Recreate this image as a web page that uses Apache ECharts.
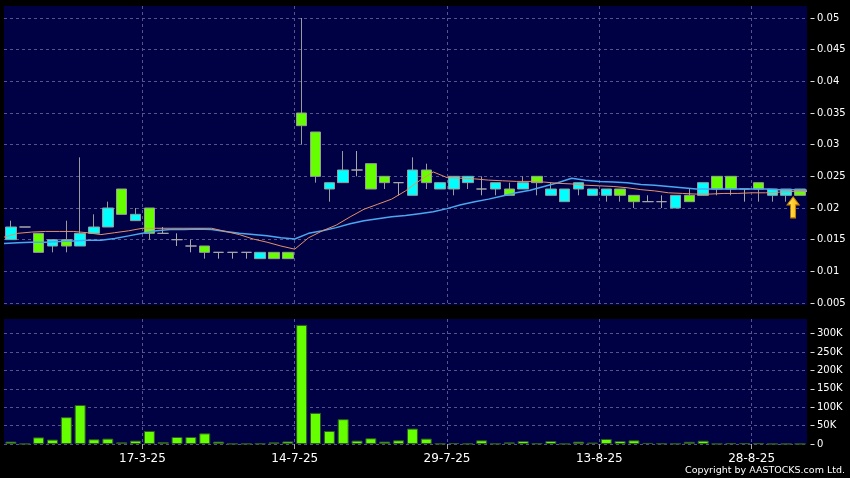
<!DOCTYPE html>
<html><head><meta charset="utf-8">
<script src="https://cdn.jsdelivr.net/npm/echarts@6/dist/echarts.min.js"></script>
<style>html,body{margin:0;padding:0;background:#000;}#c{width:850px;height:478px;}</style>
</head><body><div id="c"></div>
<script>
const dates = ['3-3-25','4-3-25','5-3-25','6-3-25','7-3-25','10-3-25','11-3-25','12-3-25','13-3-25','14-3-25',
  '17-3-25','18-3-25','19-3-25','20-3-25','21-3-25','24-3-25','25-3-25','26-3-25','27-3-25','28-3-25',
  '11-7-25','14-7-25','15-7-25','16-7-25','17-7-25','18-7-25','21-7-25','22-7-25','23-7-25','24-7-25',
  '25-7-25','28-7-25','29-7-25','30-7-25','31-7-25','1-8-25','4-8-25','5-8-25','6-8-25','7-8-25',
  '8-8-25','11-8-25','12-8-25','13-8-25','14-8-25','15-8-25','18-8-25','19-8-25','20-8-25','21-8-25',
  '22-8-25','25-8-25','26-8-25','27-8-25','28-8-25','29-8-25','1-9-25','2-9-25'];
const edgeDates = dates.concat(['3-9-25']);
const tickLabels = ['17-3-25','14-7-25','29-7-25','13-8-25','28-8-25'];
const volumeTicks = [0, 50000, 100000, 150000, 200000, 250000, 300000];

const opens  = [0.015,0.017,0.016,0.014,0.015,0.014,0.016,0.017,0.023,0.018,
  0.020,0.016,0.015,0.014,0.014,0.013,0.013,0.013,0.012,0.013,
  0.013,0.035,0.032,0.023,0.024,0.026,0.027,0.025,0.024,0.022,
  0.026,0.023,0.023,0.024,0.023,0.023,0.023,0.023,0.025,0.022,
  0.021,0.023,0.022,0.022,0.023,0.022,0.021,0.021,0.020,0.022,
  0.022,0.025,0.025,0.023,0.024,0.022,0.022,0.023];
const closes = [0.017,0.017,0.013,0.015,0.014,0.016,0.017,0.020,0.019,0.019,
  0.016,0.016,0.015,0.014,0.013,0.013,0.013,0.013,0.013,0.012,
  0.012,0.033,0.025,0.024,0.026,0.026,0.023,0.024,0.024,0.026,
  0.024,0.024,0.025,0.025,0.023,0.024,0.022,0.024,0.024,0.023,
  0.023,0.024,0.023,0.023,0.022,0.021,0.021,0.021,0.022,0.021,
  0.024,0.023,0.023,0.023,0.023,0.023,0.023,0.022];
const lows   = [0.015,0.017,0.013,0.013,0.013,0.014,0.016,0.017,0.019,0.018,
  0.015,0.016,0.014,0.013,0.012,0.012,0.012,0.012,0.012,0.012,
  0.012,0.030,0.024,0.021,0.024,0.025,0.023,0.023,0.022,0.022,
  0.023,0.023,0.022,0.023,0.022,0.022,0.022,0.023,0.022,0.022,
  0.021,0.022,0.022,0.021,0.021,0.020,0.021,0.020,0.020,0.021,
  0.022,0.022,0.022,0.021,0.021,0.021,0.021,0.022];
const highs  = [0.018,0.017,0.016,0.015,0.018,0.028,0.019,0.021,0.023,0.020,
  0.020,0.017,0.016,0.015,0.014,0.013,0.013,0.013,0.013,0.013,
  0.013,0.050,0.032,0.024,0.029,0.029,0.027,0.025,0.024,0.028,
  0.027,0.024,0.025,0.025,0.025,0.024,0.024,0.025,0.025,0.024,
  0.023,0.024,0.023,0.023,0.023,0.022,0.022,0.022,0.022,0.023,
  0.024,0.025,0.025,0.023,0.024,0.023,0.023,0.023];
const volumes = [6500,500,18000,12000,73000,106000,12800,14700,4600,9200,
  35600,5500,19000,19000,29000,6500,800,800,1200,4600,
  7000,324000,84700,35500,67500,9200,15600,6500,10000,42000,
  14700,1000,2500,1000,10000,1000,4500,8000,1500,8000,
  500,6400,4000,13700,8000,10000,3000,1500,1000,6000,
  9000,500,2000,2000,2000,300,300,300];
const maShort = [0.0154,0.0160,0.0162,0.0163,0.0163,0.0163,0.0161,0.0158,0.0161,0.0164,
  0.0168,0.0168,0.0168,0.0168,0.0168,0.0168,0.0163,0.0158,0.0151,0.0146,
  0.0140,0.0135,0.0153,0.0164,0.0173,0.0186,0.0198,0.0206,0.0214,0.0227,
  0.0243,0.0257,0.0248,0.0247,0.0246,0.0244,0.0243,0.0242,0.0242,0.0241,
  0.0239,0.0238,0.0236,0.0235,0.0234,0.0232,0.0229,0.0227,0.0224,0.0223,
  0.0222,0.0222,0.0223,0.0223,0.0224,0.0224,0.0225,0.0226,0.0226];
const maLong = [0.0144,0.0145,0.0146,0.0146,0.0147,0.0148,0.0149,0.0149,0.0152,0.0156,
  0.0160,0.0164,0.0166,0.0166,0.0167,0.0166,0.0163,0.0160,0.0158,0.0156,
  0.0153,0.0151,0.0160,0.0164,0.0169,0.0175,0.0180,0.0183,0.0186,0.0188,
  0.0191,0.0194,0.0199,0.0205,0.0210,0.0214,0.0219,0.0224,0.0228,0.0234,
  0.0240,0.0247,0.0244,0.0242,0.0241,0.0240,0.0237,0.0236,0.0234,0.0232,
  0.0230,0.0230,0.0230,0.0230,0.0230,0.0230,0.0229,0.0229,0.0228];
const lastPrice = 0.022;

const FONT = 'DejaVu Sans';
const PANEL = '#000044';
const GRIDLINE = {color: '#55558c', type: [3, 3], width: 1};
const isTick = (i, v) => tickLabels.indexOf(v) >= 0;

const candleData = opens.map((o, i) => [o, closes[i], lows[i], highs[i]]);

const chart = echarts.init(document.getElementById('c'), null, {renderer: 'canvas'});
chart.setOption({
  backgroundColor: '#000',
  animation: false,
  title: {text: 'Copyright by AASTOCKS.com Ltd.', right: 5, top: 466, padding: 0,
    textStyle: {color: '#fff', fontSize: 9.5, fontWeight: 'normal', fontFamily: FONT}},
  grid: [
    {left: 4, right: 43, top: 6, height: 299, show: true, backgroundColor: PANEL, borderWidth: 0},
    {left: 4, right: 43, top: 18, height: 285, show: false, borderWidth: 0},
    {left: 4, right: 43, top: 319, height: 125, show: true, backgroundColor: PANEL, borderWidth: 0}
  ],
  xAxis: [
    {type: 'category', gridIndex: 0, data: edgeDates, boundaryGap: false,
      axisLine: {show: false}, axisTick: {show: false}, axisLabel: {show: false},
      splitLine: {show: true, interval: isTick, lineStyle: GRIDLINE}},
    {type: 'category', gridIndex: 1, data: dates, boundaryGap: true, show: false},
    {type: 'category', gridIndex: 1, data: edgeDates, boundaryGap: false, show: false},
    {type: 'category', gridIndex: 2, data: dates, boundaryGap: true, show: false},
    {type: 'category', gridIndex: 2, data: edgeDates, boundaryGap: false, position: 'bottom',
      axisLine: {show: false},
      axisTick: {show: true, interval: isTick, length: 5, lineStyle: {color: '#aaa'}},
      axisLabel: {show: true, interval: isTick, color: '#fff', fontSize: 12, fontFamily: FONT, margin: 9},
      splitLine: {show: true, interval: isTick, lineStyle: GRIDLINE}}
  ],
  yAxis: [
    {type: 'value', gridIndex: 0, min: 0, max: 1, show: false},
    {type: 'value', gridIndex: 1, min: 0.005, max: 0.05, interval: 0.005, position: 'right', offset: 3.5,
      axisLine: {show: false}, axisTick: {show: true, length: 4, lineStyle: {color: '#ddd'}},
      axisLabel: {color: '#fff', fontSize: 10, fontFamily: FONT, margin: 6.5},
      splitLine: {show: true, lineStyle: GRIDLINE}},
    {type: 'value', gridIndex: 2, min: 0, max: 340000, interval: 50000, position: 'right', offset: 3.5,
      axisLine: {show: false},
      axisTick: {show: true, length: 4, customValues: volumeTicks, lineStyle: {color: '#ddd'}},
      axisLabel: {color: '#fff', fontSize: 10, fontFamily: FONT, margin: 6.5, customValues: volumeTicks,
        formatter: v => v === 0 ? '0' : (v / 1000) + 'K'},
      splitLine: {show: true, lineStyle: GRIDLINE}}
  ],
  series: [
    {type: 'candlestick', xAxisIndex: 1, yAxisIndex: 1, data: candleData, barWidth: 11,
      itemStyle: {color: '#00ffff', color0: '#66ff00', borderColor: '#9a9a9a', borderColor0: '#9a9a9a',
        borderColorDoji: '#a8a8a8', borderWidth: 1}},
    {type: 'line', xAxisIndex: 2, yAxisIndex: 1, data: maLong, symbol: 'none', smooth: false,
      lineStyle: {color: '#4aa8f0', width: 1.5}},
    {type: 'line', xAxisIndex: 2, yAxisIndex: 1, data: maShort, symbol: 'none', smooth: false,
      lineStyle: {color: '#e69066', width: 1},
      markPoint: {
        symbol: 'path://M6,0 L12,8 L8.5,8 L8.5,21 L3.5,21 L3.5,8 L0,8 Z',
        symbolSize: [12, 21], symbolKeepAspect: false, symbolOffset: [0, 12],
        label: {show: false},
        itemStyle: {color: new echarts.graphic.LinearGradient(0, 0, 1, 0,
          [{offset: 0, color: '#ffee66'}, {offset: 1, color: '#ffb000'}]),
          borderColor: '#c88400', borderWidth: 1},
        data: [{coord: [57, lastPrice]}]
      }},
    {type: 'bar', xAxisIndex: 3, yAxisIndex: 2, data: volumes, barWidth: 11,
      itemStyle: {color: '#66ff00', borderColor: '#2d5a22', borderWidth: 1}}
  ]
});
</script>
</body></html>
